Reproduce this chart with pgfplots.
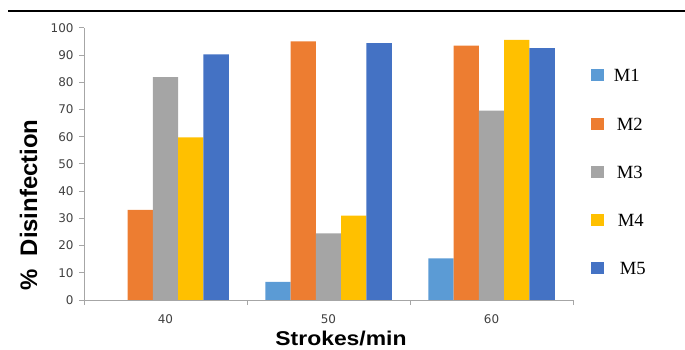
\documentclass[border=0pt]{standalone}
\usepackage{fontspec}
\usepackage{pgfplots}
\pgfplotsset{compat=1.18}
\newfontfamily\tickfont{DejaVu Sans}
\newfontfamily\labfont{Liberation Sans}
\newfontfamily\legfont{Liberation Serif}
\definecolor{cA}{HTML}{5B9BD5}
\definecolor{cB}{HTML}{ED7D31}
\definecolor{cC}{HTML}{A5A5A5}
\definecolor{cD}{HTML}{FFC000}
\definecolor{cE}{HTML}{4472C4}
\definecolor{axisgray}{HTML}{A6A6A6}
\definecolor{ticktext}{HTML}{404040}
\pgfplotsset{mylegend/.style={legend image code/.code={\fill[##1] (0bp,-6bp) rectangle (12.7bp,6bp);}}}
\begin{document}
\begin{tikzpicture}
\useasboundingbox (0,0) rectangle (685bp,350bp);
\draw[line width=1.3bp] (8bp,339bp) -- (685bp,339bp);
\begin{axis}[
  at={(84bp,50bp)}, anchor=south west,
  scale only axis, width=489bp, height=272bp,
  xmin=-0.5, xmax=2.5, ymin=0, ymax=100,
  axis x line*=bottom, axis y line*=left,
  axis line style={draw=axisgray, line width=1bp, -},
  ybar=0pt, bar width=25.3bp,
  xtick={0,1,2}, xticklabels={40,50,60},
  ytick={0,10,...,100},
  minor xtick={-0.5,0.5,1.5,2.5},
  tick align=outside,
  major tick length=5bp, minor tick length=5bp,
  major x tick style={draw=none},
  tick style={draw=axisgray, line width=1bp},
  /pgf/number format/assume math mode=true,
  tick label style={font=\tickfont\fontsize{12}{12}\selectfont, text=ticktext},
  xticklabel style={yshift=-6bp},
  yticklabel style={xshift=-2bp},
  xlabel={\scalebox{1.15}[1]{Strokes/min}},
  ylabel={\%\ \ Disinfection},
  every axis x label/.style={at={(axis description cs:0.5256,-0.143)}, anchor=center, font=\labfont\bfseries\fontsize{20}{20}\selectfont},
  every axis y label/.style={at={(axis description cs:-0.1135,0.349)}, rotate=90, anchor=center, font=\labfont\bfseries\fontsize{24}{24}\selectfont},
  legend style={at={(axis description cs:1.0307,0.858)}, anchor=north west, draw=none, fill=none,
    font=\legfont\fontsize{18.7}{18.7}\selectfont, row sep=35.25bp,
    nodes={inner sep=0pt, text height=13bp, text depth=0pt}},
  legend cell align=left,
]
\addplot[fill=cA, draw=none, mylegend] coordinates {(0,0) (1,6.7) (2,15.3)};
\addplot[fill=cB, draw=none, mylegend] coordinates {(0,33.1) (1,95.1) (2,93.5)};
\addplot[fill=cC, draw=none, mylegend] coordinates {(0,81.9) (1,24.5) (2,69.6)};
\addplot[fill=cD, draw=none, mylegend] coordinates {(0,59.8) (1,31) (2,95.6)};
\addplot[fill=cE, draw=none, mylegend] coordinates {(0,90.3) (1,94.4) (2,92.6)};
\legend{\hspace{10bp}M1,\hspace{13bp}M2,\hspace{13bp}M3,\hspace{14bp}M4,\hspace{16bp}M5}
\end{axis}
\end{tikzpicture}
\end{document}
